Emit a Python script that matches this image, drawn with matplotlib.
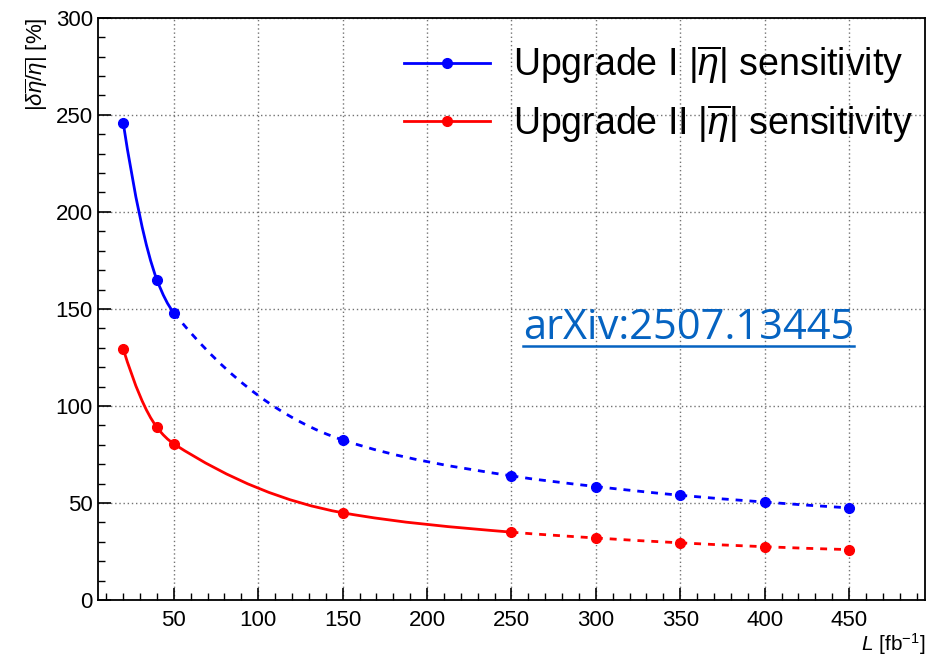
import numpy as np
import matplotlib.pyplot as plt
from matplotlib.path import Path
from matplotlib.patches import PathPatch
from matplotlib.lines import Line2D
from matplotlib.ticker import MultipleLocator

plt.rcParams['font.family'] = ['Liberation Sans', 'DejaVu Sans']
plt.rcParams['mathtext.fontset'] = 'custom'
plt.rcParams['mathtext.rm'] = 'Liberation Sans'
plt.rcParams['mathtext.it'] = 'Liberation Sans:italic'

# luminosity points [fb^-1]
lumi = [20, 40, 50, 150, 250, 300, 350, 400, 450]
# |delta eta / eta| [%]
sens_up1 = [246, 165, 148, 82.5, 64, 58.5, 54, 50.5, 47.5]
sens_up2 = [129.5, 89, 80.5, 45, 35, 32, 29.5, 27.5, 26]
# where the solid part ends and the dashed part starts
split_up1 = 50
split_up2 = 250

xticks = [50, 100, 150, 200, 250, 300, 350, 400, 450]
yticks = [0, 50, 100, 150, 200, 250, 300]


def pendientes(x, y):
    # tangentes tipo pchip para dibujar la curva suave
    x = np.asarray(x, float)
    y = np.asarray(y, float)
    h = np.diff(x)
    d = np.diff(y) / h
    m = np.zeros(len(x))
    for i in range(1, len(x) - 1):
        w1 = 2 * h[i] + h[i - 1]
        w2 = h[i] + 2 * h[i - 1]
        m[i] = (w1 + w2) / (w1 / d[i - 1] + w2 / d[i])
    m[0] = ((2 * h[0] + h[1]) * d[0] - h[0] * d[1]) / (h[0] + h[1])
    m[-1] = ((2 * h[-1] + h[-2]) * d[-1] - h[-1] * d[-2]) / (h[-1] + h[-2])
    return m


def curva(ax, x, y, corte, color):
    m = pendientes(x, y)
    for i in range(len(x) - 1):
        h = x[i + 1] - x[i]
        verts = [(x[i], y[i]),
                 (x[i] + h / 3, y[i] + m[i] * h / 3),
                 (x[i + 1] - h / 3, y[i + 1] - m[i + 1] * h / 3),
                 (x[i + 1], y[i + 1])]
        codes = [Path.MOVETO, Path.CURVE4, Path.CURVE4, Path.CURVE4]
        ls = '-' if x[i + 1] <= corte else (0, (2.5, 2.5))
        ax.add_patch(PathPatch(Path(verts, codes), fill=False, edgecolor=color,
                               lw=2.0, linestyle=ls, zorder=3))
    ax.plot(x, y, 'o', color=color, ms=7, zorder=4)


fig = plt.figure(figsize=(9.32, 6.58), dpi=100)
ax = fig.add_axes([0.105, 0.088, 0.8875, 0.885])

curva(ax, lumi, sens_up1, split_up1, 'blue')
curva(ax, lumi, sens_up2, split_up2, 'red')

ax.set_xlim(5, 495)
ax.set_ylim(0, 300)
ax.set_xticks(xticks)
ax.set_yticks(yticks)
ax.xaxis.set_minor_locator(MultipleLocator(10))
ax.yaxis.set_minor_locator(MultipleLocator(10))
ax.tick_params(which='major', direction='in', length=9, width=1.2, labelsize=16)
ax.tick_params(which='minor', direction='in', length=5, width=1.0)
ax.tick_params(axis='x', pad=7)
for s in ax.spines.values():
    s.set_linewidth(1.3)
ax.grid(True, which='major', color='0.45', ls=(0, (1, 2)), lw=1.0)

ax.set_xlabel(r'$L$ [fb$^{-1}$]', fontsize=15, loc='right', labelpad=0)
ax.set_ylabel(r'$|\delta\overline{\eta}/\overline{\eta}|$ [%]', fontsize=16, loc='top')

h1 = Line2D([], [], color='blue', lw=2, marker='o', ms=7)
h2 = Line2D([], [], color='red', lw=2, marker='o', ms=7)
ax.legend([h1, h2],
          [r'Upgrade I $|\overline{\eta}|$ sensitivity',
           r'Upgrade II $|\overline{\eta}|$ sensitivity'],
          loc='upper right', bbox_to_anchor=(1.017, 1.0), frameon=False,
          fontsize=27, handlelength=2.3, handletextpad=0.6, labelspacing=0.42,
          borderpad=0.2)

txt = fig.text(0.739, 0.502, 'arXiv:2507.13445', color='#0563C1',
               fontsize=30, family='Open Sans', ha='center', va='center')
fig.canvas.draw()
bb = txt.get_window_extent().transformed(fig.transFigure.inverted())
fig.add_artist(Line2D([bb.x0, bb.x1], [bb.y0 + 0.004, bb.y0 + 0.004],
                      color='#0563C1', lw=1.8, transform=fig.transFigure))

fig.savefig('out.png', dpi=100)
